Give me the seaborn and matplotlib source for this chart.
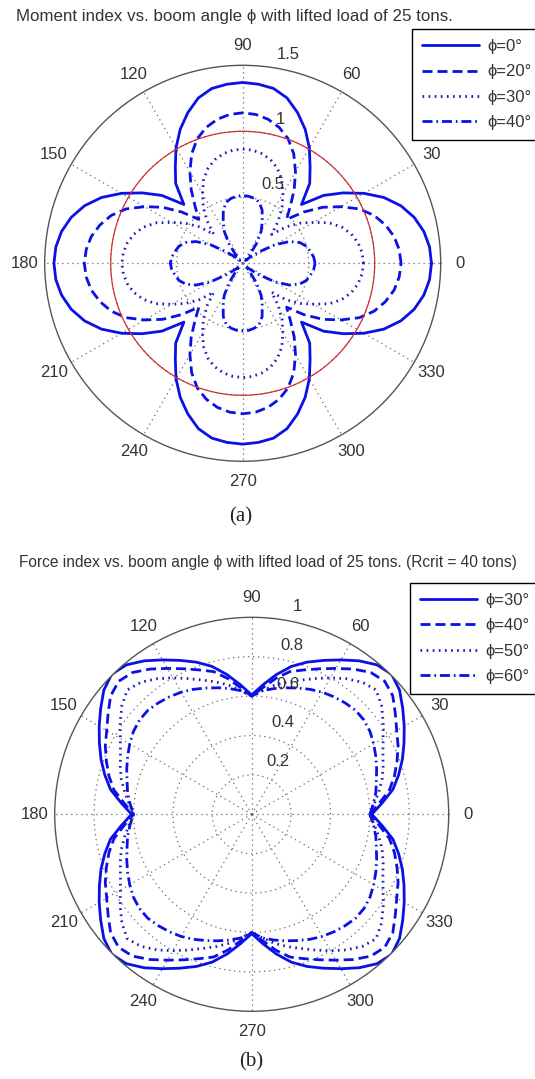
import numpy as np
import matplotlib
matplotlib.use("Agg")
import matplotlib.pyplot as plt
import seaborn as sns

# ---------------- data (first quadrant; curves are mirror-symmetric) ----
angle_deg = [0, 5, 10, 15, 20, 25, 30, 35, 40, 45, 50, 55, 60, 65, 70, 75, 80, 85, 90]

# (a) moment index
moment_phi0 = [1.43, 1.421, 1.393, 1.345, 1.275, 1.18, 1.06, 0.93, 0.80, 0.63, 0.79, 0.89,
               1.01, 1.12, 1.215, 1.297, 1.345, 1.362, 1.37]
moment_phi20 = [1.20, 1.19, 1.165, 1.12, 1.06, 0.975, 0.858, 0.74, 0.605, 0.47, 0.56, 0.68,
                0.80, 0.915, 1.005, 1.066, 1.108, 1.132, 1.14]
moment_phi30 = [0.915, 0.908, 0.888, 0.853, 0.80, 0.725, 0.62, 0.53, 0.43, 0.31, 0.42, 0.52,
                0.61, 0.70, 0.767, 0.813, 0.843, 0.86, 0.866]
moment_phi40 = [0.548, 0.54, 0.52, 0.50, 0.46, 0.39, 0.28, 0.15, 0.07, 0.03, 0.08, 0.18,
                0.28, 0.35, 0.43, 0.48, 0.50, 0.51, 0.513]
moment_labels = ["\u03d5=0\u00b0", "\u03d5=20\u00b0", "\u03d5=30\u00b0", "\u03d5=40\u00b0"]
moment_crit = 1.0
moment_rticks = [0.5, 1.0, 1.5]

# (b) force index
force_phi30 = [0.61, 0.665, 0.728, 0.772, 0.814, 0.853, 0.894, 0.936, 0.98, 1.005, 0.99, 0.951,
               0.905, 0.862, 0.822, 0.777, 0.72, 0.66, 0.606]
force_phi40 = [0.60, 0.65, 0.71, 0.75, 0.785, 0.82, 0.85, 0.89, 0.935, 0.955, 0.94, 0.90,
               0.855, 0.815, 0.78, 0.75, 0.70, 0.645, 0.60]
force_phi50 = [0.60, 0.625, 0.655, 0.685, 0.71, 0.735, 0.77, 0.815, 0.86, 0.893, 0.875, 0.84,
               0.80, 0.76, 0.725, 0.695, 0.665, 0.63, 0.60]
force_phi60 = [0.60, 0.62, 0.64, 0.655, 0.675, 0.695, 0.715, 0.733, 0.744, 0.746, 0.738, 0.728,
               0.716, 0.70, 0.682, 0.665, 0.648, 0.63, 0.60]
force_labels = ["\u03d5=30\u00b0", "\u03d5=40\u00b0", "\u03d5=50\u00b0", "\u03d5=60\u00b0"]
force_rticks = [0.2, 0.4, 0.6, 0.8, 1.0]

angle_ticks = [0, 30, 60, 90, 120, 150, 180, 210, 240, 270, 300, 330]

title_a = "Moment index vs. boom angle \u03d5 with lifted load of 25 tons."
title_b = "Force index vs. boom angle \u03d5 with lifted load of 25 tons. (Rcrit = 40 tons)"


def full_curve(q):
    """Mirror the first-quadrant readings into the other three quadrants."""
    a = np.array(angle_deg, dtype=float)
    q = np.array(q, dtype=float)
    th = np.concatenate([a, 180 - a[::-1][1:], 180 + a[1:], 360 - a[::-1][1:]])
    r = np.concatenate([q, q[::-1][1:], q[1:], q[::-1][1:]])
    return np.deg2rad(th), r


# ---------------- style ----------------
sns.set_style("white")
plt.rcParams["font.family"] = ["Liberation Sans", "DejaVu Sans"]

W, H = 535, 1079
fig = plt.figure(figsize=(W / 100, H / 100), dpi=100)

BLUE = "#0a10e6"
GRID = "#6a6a6a"
TXT = "#333333"
styles = [
    dict(linestyle="-"),
    dict(linestyle=(0, (3.6, 1.8))),
    dict(linestyle=(0, (0.6, 1.6)), color="#1a1ab8"),
    dict(linestyle=(0, (3.6, 1.4, 0.6, 1.4))),
]


def make_polar(cx, cy, rad, rmax, rticks):
    ax = fig.add_axes([(cx - rad) / W, 1 - (cy + rad) / H, 2 * rad / W, 2 * rad / H],
                      projection="polar")
    ax.set_ylim(0, rmax)
    ax.set_xticks(np.deg2rad(angle_ticks))
    ax.set_xticklabels([])
    ax.set_yticks([t for t in rticks if t < rmax])
    ax.set_yticklabels([])
    ax.tick_params(size=0)
    ax.grid(True, color=GRID, linestyle=(0, (1, 3)), linewidth=0.9)
    ax.spines["polar"].set_color("#555555")
    ax.spines["polar"].set_linewidth(1.0)
    ax.set_facecolor("white")
    for a in angle_ticks:
        ax.text(np.deg2rad(a), 1.1 * rmax, str(a), ha="center", va="center",
                fontsize=12, color=TXT, clip_on=False)
    for v in rticks:
        vn = v / rmax
        x = 0.11 + 0.12 * vn
        y = 0.985 * vn + 0.07
        ax.text(np.arctan2(y, x), np.hypot(x, y) * rmax, f"{v:g}", ha="center", va="center",
                fontsize=12, color=TXT, clip_on=False)
    return ax


def draw_curves(ax, series, labels):
    for q, lab, st in zip(series, labels, styles):
        th, r = full_curve(q)
        kw = dict(color=BLUE, linewidth=2.0)
        kw.update(st)
        sns.lineplot(x=th, y=r, ax=ax, sort=False, estimator=None, label=lab, **kw)


def add_legend(ax, left, top):
    leg = ax.legend(loc="upper left", bbox_to_anchor=(left / W, 1 - top / H),
                    bbox_transform=fig.transFigure, fontsize=12, frameon=True,
                    fancybox=False, edgecolor="black", framealpha=1, borderaxespad=0,
                    handlelength=3.4, handletextpad=0.5, labelspacing=0.62, borderpad=0.6)
    leg.get_frame().set_linewidth(1.0)
    for t in leg.get_texts():
        t.set_color(TXT)
    return leg


# ---- (a)
ax1 = make_polar(242.7, 263.3, 198, 1.5, moment_rticks)
draw_curves(ax1, [moment_phi0, moment_phi20, moment_phi30, moment_phi40], moment_labels)
circ = np.linspace(0, 2 * np.pi, 361)
ax1.plot(circ, np.full_like(circ, moment_crit), color="#d03030", linewidth=0.9, zorder=5)
add_legend(ax1, 412, 29)

# ---- (b)
ax2 = make_polar(251.7, 814.3, 197, 1.0, force_rticks)
draw_curves(ax2, [force_phi30, force_phi40, force_phi50, force_phi60], force_labels)
add_legend(ax2, 410, 583)

# titles and captions
fig.text(234.5 / W, 1 - 16 / H, title_a, ha="center", va="center", fontsize=12.2, color=TXT)
fig.text(267.5 / W, 1 - 563 / H, title_b, ha="center", va="center", fontsize=11.2, color=TXT)
fig.text(241 / W, 1 - 517 / H, "(a)", ha="center", va="center", fontsize=15,
         family=["Liberation Serif", "DejaVu Serif"], color="#222222")
fig.text(251 / W, 1 - 1062 / H, "(b)", ha="center", va="center", fontsize=15,
         family=["Liberation Serif", "DejaVu Serif"], color="#222222")

fig.savefig("out.png", dpi=100, facecolor="white")
